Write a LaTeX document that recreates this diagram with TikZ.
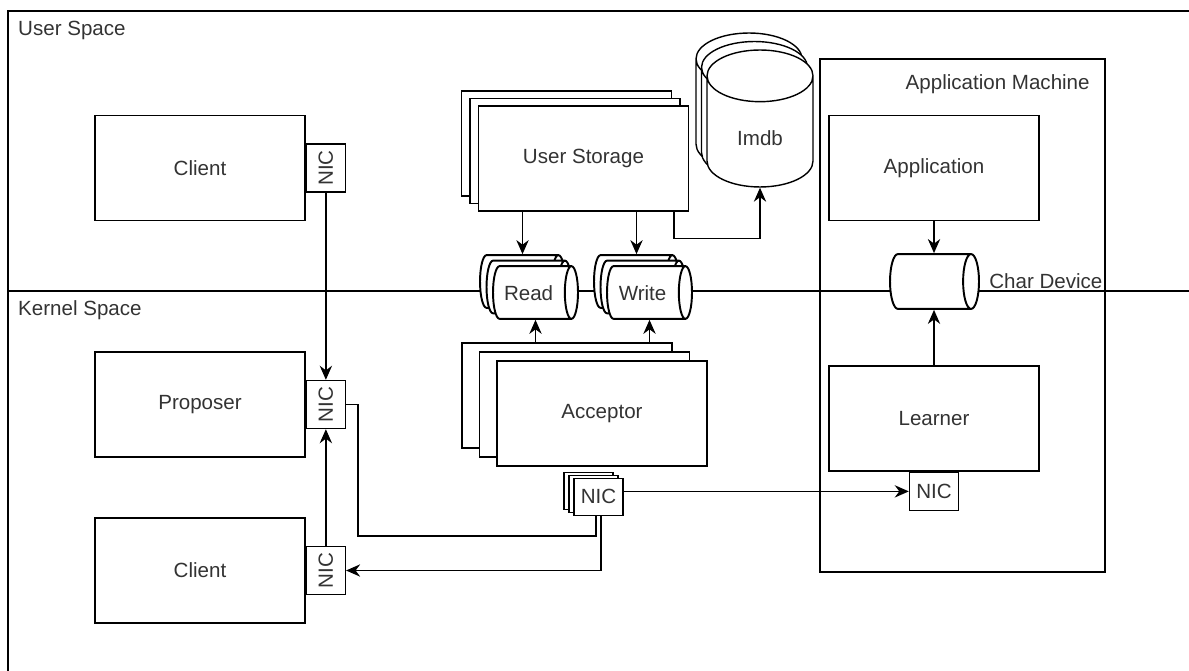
\documentclass[tikz,border=0pt]{standalone}
\usepackage{fontspec}
\setmainfont{Liberation Sans}
\usetikzlibrary{arrows.meta, positioning, shapes.geometric, shadows}

\begin{document}
\begin{tikzpicture}[
  x=0.02cm, y=-0.02cm,
  font=\fontsize{11.7}{14}\selectfont,
  text=black!80,
  box/.style={
    draw,
    fill=white,
    line width=0.8pt,
    minimum width=4.2cm,
    minimum height=2.1cm,
    inner sep=0pt
  },
  nicbox/.style={
    draw,
    fill=white,
    line width=0.8pt,
    minimum width=0.78cm,
    minimum height=0.96cm,
    inner sep=0pt
  },
  pipe/.style={
    cylinder,
    draw,
    fill=white,
    line width=1.1pt,
    aspect=0.25,
    anchor=shape center,
    text height=8.6pt,
    text depth=0pt,
    inner xsep=0pt,
    inner ysep=10.7pt,
    minimum height=1.7cm,
    minimum width=0pt
  },
  arrow/.style={
    draw,
    line width=0.8pt,
    -{Stealth[length=8pt, width=7pt]}
  },
  link/.style={
    draw,
    line width=0.8pt
  }
]
\useasboundingbox (0,0) rectangle (1189,671);

% Spaces
\draw[link] (8,671) -- (8,11) -- (1189,11);
\node[anchor=west] (userspace) at (12,30) {User Space};
\node[anchor=west] (kernelspace) at (12,310) {Kernel Space};

% Application machine
\node[draw, line width=0.8pt, minimum width=5.7cm, minimum height=10.26cm] (machine) at (962.5,315.5) {};
\node[anchor=east, inner sep=0pt] (machinelabel) at (1090,84) {Application Machine};

\draw[link] (8,291) -- (1189,291);

% Left column
\node[box] (client) at (200,168) {Client};
\node[nicbox, right=0pt of client] (clientnic) {\rotatebox{90}{NIC}};
\node[box] (proposer) at (200,404.5) {Proposer};
\node[nicbox, right=0pt of proposer] (proposernic) {\rotatebox{90}{NIC}};
\node[box] (client2) at (200,570.5) {Client};
\node[nicbox, right=0pt of client2] (client2nic) {\rotatebox{90}{NIC}};

% Storage and acceptors
\node[box, double copy shadow={shadow xshift=-0.17cm, shadow yshift=0.15cm}] (storage) at (583.5,158.5) {User Storage};
\node[pipe, double copy shadow={shadow xshift=-0.13cm, shadow yshift=0.11cm}] (read) at (535.5,292.5) {Read};
\node[pipe, double copy shadow={shadow xshift=-0.13cm, shadow yshift=0.11cm}] (write) at (649.5,292.5) {Write};
\node[cylinder, draw, fill=white, anchor=shape center, shape border rotate=90, aspect=0.9,
  minimum width=2.12cm, minimum height=2.74cm, line width=0.8pt,
  double copy shadow={shadow xshift=-0.11cm, shadow yshift=0.17cm}] (imdb) at (760,118.5) {Imdb};
\node[box, double copy shadow={shadow xshift=-0.35cm, shadow yshift=0.18cm}] (acceptor) at (602,413.5) {Acceptor};
\node[nicbox, minimum width=0.98cm, minimum height=0.74cm, below=0.22cm of acceptor, xshift=-0.07cm,
  double copy shadow={shadow xshift=-0.1cm, shadow yshift=0.06cm}] (acceptornic) {NIC};

% Application side
\node[box] (application) at (934,168) {Application};
\node[pipe, aspect=0.29, inner ysep=11.3pt, minimum height=1.78cm] (chardev) at (934.5,281.5) {};
\node[right=0.18cm of chardev, inner sep=0pt] (chardevlabel) {Char Device};
\node[box] (learner) at (934,418.5) {Learner};
\node[nicbox, minimum width=0.98cm, minimum height=0.76cm, below=0pt of learner] (learnernic) {NIC};

\coordinate (readtop) at (read.shape center |- read.north);
\coordinate (writetop) at (write.shape center |- write.north);
\coordinate (readin) at ([xshift=-0.26cm, yshift=0.22cm]readtop);
\coordinate (writein) at ([xshift=-0.26cm, yshift=0.22cm]writetop);
\coordinate (acceptorback) at ([yshift=0.36cm]acceptor.north);
\coordinate (loop) at (358,536);

% Connectors
\draw[arrow] (clientnic.south) -- (proposernic.north);
\draw[arrow] (client2nic.north) -- (proposernic.south);
\draw[link] (proposernic.east) -| (loop) -| ([xshift=-0.05cm]acceptornic.south);
\draw[arrow] ([xshift=0.05cm]acceptornic.south) |- (client2nic.east);
\draw[arrow] (acceptornic.east |- learnernic.west) -- (learnernic.west);
\draw[arrow] (storage.south -| readin) -- (readin);
\draw[arrow] (storage.south -| writein) -- (writein);
\draw[arrow] ([xshift=-0.3cm]storage.south east) -- ++(0,27) -| (imdb.south);
\draw[arrow] (read.shape center |- acceptorback) -- (read.shape center |- read.south);
\draw[arrow] (write.shape center |- acceptorback) -- (write.shape center |- write.south);
\draw[arrow] (application.south) -- (application.south |- chardev.north);
\draw[arrow] (learner.north) -- (learner.north |- chardev.south);

\end{tikzpicture}
\end{document}
